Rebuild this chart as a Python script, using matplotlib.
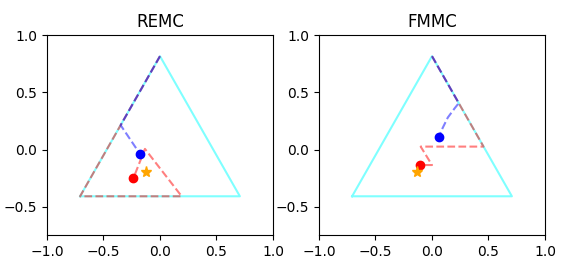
import matplotlib
matplotlib.use("Agg")
import matplotlib.pyplot as plt
import numpy as np

titles = ["REMC", "FMMC"]

# simplex triangle vertices (x, y)
tri_x = [-0.707, 0.707, 0.0, -0.707]
tri_y = [-0.408, -0.408, 0.816, -0.408]

# REMC paths
remc_blue_x = [0.0, -0.348, -0.177]
remc_blue_y = [0.816, 0.213, -0.038]
remc_red_x = [0.0, -0.707, 0.192, -0.133, -0.236]
remc_red_y = [0.816, -0.408, -0.408, 0.006, -0.252]
remc_blue_pt = (-0.177, -0.038)
remc_red_pt = (-0.236, -0.252)
remc_star = (-0.124, -0.193)

# FMMC paths
fmmc_blue_x = [0.0, 0.237, 0.2, 0.14, 0.095, 0.061]
fmmc_blue_y = [0.816, 0.406, 0.36, 0.28, 0.19, 0.114]
fmmc_red_x = [0.0, 0.456, -0.1, 0.0, -0.11]
fmmc_red_y = [0.816, 0.026, 0.026, -0.135, -0.135]
fmmc_blue_pt = (0.061, 0.114)
fmmc_red_pt = (-0.11, -0.135)
fmmc_star = (-0.13, -0.2)

data = [
    (remc_blue_x, remc_blue_y, remc_red_x, remc_red_y, remc_blue_pt, remc_red_pt, remc_star),
    (fmmc_blue_x, fmmc_blue_y, fmmc_red_x, fmmc_red_y, fmmc_blue_pt, fmmc_red_pt, fmmc_star),
]

fig = plt.figure(figsize=(5.64, 2.70), dpi=100)
positions = [[0.0833, 0.128, 0.4007, 0.742], [0.5656, 0.128, 0.4007, 0.742]]

for pos, title, (bx, by, rx, ry, bp, rp, st) in zip(positions, titles, data):
    ax = fig.add_axes(pos)
    ax.plot(tri_x, tri_y, color="cyan", alpha=0.5, lw=1.5)
    ax.plot(rx, ry, "--", color="red", alpha=0.5, lw=1.5)
    ax.plot(bx, by, "--", color="blue", alpha=0.5, lw=1.5)
    ax.plot(*bp, "o", color="blue", ms=6)
    ax.plot(*rp, "o", color="red", ms=6)
    ax.plot(*st, "*", color="orange", ms=8)
    ax.set_xlim(-1, 1)
    ax.set_ylim(-0.75, 1.0)
    ax.set_xticks([-1.0, -0.5, 0.0, 0.5, 1.0])
    ax.set_yticks([-0.5, 0.0, 0.5, 1.0])
    ax.set_title(title)

fig.savefig("out.png", dpi=100)
